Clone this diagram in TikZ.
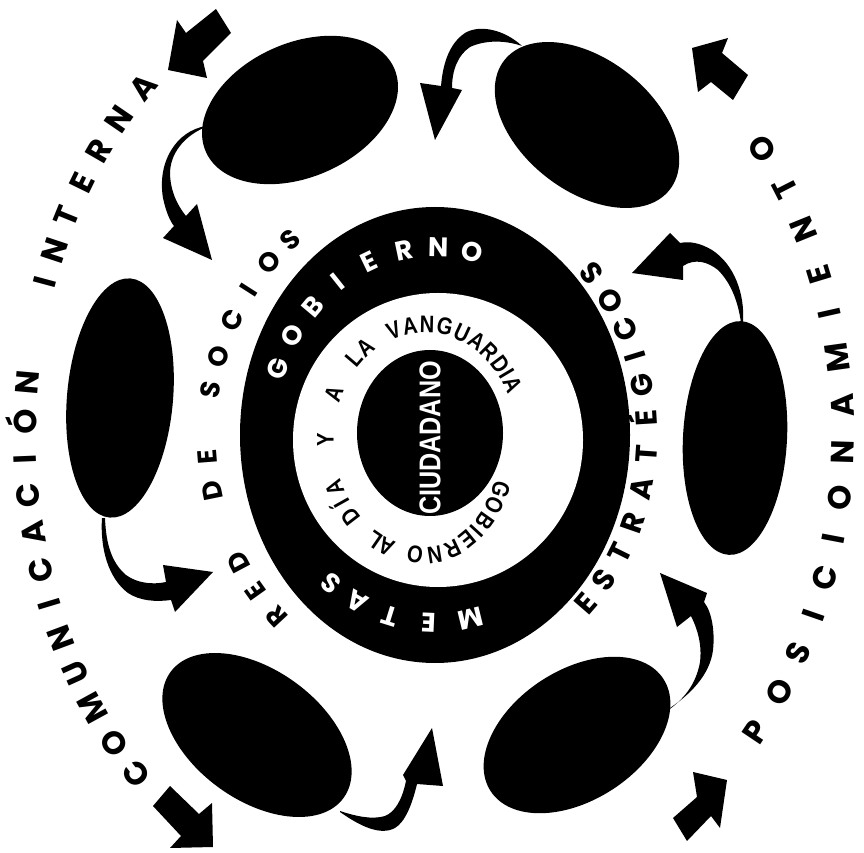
\documentclass[tikz,border=0pt]{standalone}
\usepackage{fontspec}
\setmainfont{Liberation Sans}
\newfontfamily\narrowfont[FakeStretch=0.84]{Liberation Sans}
\newfontfamily\geofont{Poppins}
\usetikzlibrary{calc}
\tikzset{
  ltr/.style={inner sep=0pt, anchor=center, text depth=0pt},
  outertxt/.style={ltr, font=\geofont\fontsize{32}{32}\selectfont\bfseries, text height=22.5pt},
  estrtxt/.style={ltr, font=\geofont\fontsize{30}{30}\selectfont\bfseries, text height=21pt},
  redtxt/.style={ltr, font=\geofont\fontsize{27}{27}\selectfont\bfseries, text height=19pt},
  ringtxt/.style={ltr, text=white, font=\geofont\fontsize{27}{27}\selectfont\bfseries, text height=19pt},
  innertxt/.style={ltr, font=\narrowfont\fontsize{24}{24}\selectfont\bfseries, text height=17.2pt},
  blob/.style={fill=black},
  ribbon/.style={fill=black},
  blockarrow/.style={fill=black},
}
% #1 prefix, #2 cx, #3 cy, #4 rx, #5 ry, #6 style, #7 orientation offset, #8 list letter/angle
\newcommand\ringtext[8]{%
  \foreach \ch/\th [count=\k] in {#8} {%
    \pgfmathsetmacro\tp{atan2(sin(\th)*#4, cos(\th)*#5)}%
    \pgfmathsetmacro\nr{atan2(sin(\tp)*#4, cos(\tp)*#5)+#7}%
    \node[#6, rotate=\nr] (#1\k) at ({#2+#4*cos(\tp)}, {#3+#5*sin(\tp)}) {\ch};
  }}
\begin{document}
\begin{tikzpicture}[x=1pt,y=1pt]
\useasboundingbox (0,0) rectangle (864,852);
\fill[white] (0,0) rectangle (864,852);

% ---------- shapes in image coordinates (y down) ----------
\begin{scope}[shift={(0,852)}, yscale=-1]
  % rings
  \fill[black] (435,435) ellipse [x radius=195, y radius=228];
  \fill[white] (438,440) ellipse [x radius=145, y radius=147];
  \fill[black] (430,433) ellipse [x radius=73, y radius=83];
  % blobs
  \fill[blob, rotate around={-24:(300,110)}] (300,110) ellipse [x radius=103, y radius=67];
  \fill[blob, rotate around={38:(587,125)}] (587,125) ellipse [x radius=105, y radius=66];
  \fill[blob, rotate around={5:(120,398)}] (120,398) ellipse [x radius=53, y radius=120];
  \fill[blob, rotate around={3:(735,438)}] (735,438) ellipse [x radius=52, y radius=117];
  \fill[blob, rotate around={36:(257,735)}] (257,735) ellipse [x radius=107, y radius=65];
  \fill[blob, rotate around={-33:(577,735)}] (577,735) ellipse [x radius=103, y radius=65];
  % curved ribbon arrows
  \fill[ribbon] (206,126) .. controls (176,131) and (157,162) .. (163,198)
     .. controls (166,212) and (170,221) .. (174,226) -- (163,238) -- (212,260) -- (197,204) -- (186,216)
     .. controls (177,205) and (170,190) .. (170,172) .. controls (171,150) and (188,134) .. (206,127) -- cycle;
  \fill[ribbon] (522,46) .. controls (505,30) and (480,24) .. (465,33)
     .. controls (450,43) and (443,62) .. (441,86) -- (420,83) -- (435,140) -- (462,90) -- (452,88)
     .. controls (452,70) and (458,55) .. (470,47) .. controls (485,40) and (505,40) .. (522,46) -- cycle;
  \fill[ribbon] (743,323) .. controls (745,295) and (735,265) .. (712,250)
     .. controls (700,243) and (690,241) .. (680,243) -- (670,233) -- (632,273) -- (683,280) -- (683,266)
     .. controls (695,258) and (708,262) .. (718,270) .. controls (730,282) and (738,300) .. (741,323) -- cycle;
  \fill[ribbon] (667,710) .. controls (690,695) and (710,675) .. (713,650)
     .. controls (715,632) and (712,612) .. (704,602) -- (707,593) -- (660,573) -- (677,627) -- (691,616)
     .. controls (698,630) and (702,645) .. (700,662) .. controls (696,685) and (683,700) .. (667,711) -- cycle;
  \fill[ribbon] (340,812) .. controls (360,826) and (380,836) .. (395,828)
     .. controls (405,822) and (412,805) .. (417,784) -- (443,786) -- (432,728) -- (403,775) -- (406,781)
     .. controls (402,800) and (395,812) .. (385,816) .. controls (372,820) and (355,816) .. (340,811) -- cycle;
  \fill[ribbon] (102,518) .. controls (100,548) and (108,578) .. (128,593)
     .. controls (140,601) and (156,602) .. (171,600) -- (175,612) -- (213,572) -- (163,565) -- (166,582)
     .. controls (152,585) and (137,583) .. (126,575) .. controls (112,563) and (106,545) .. (105,518) -- cycle;
  % block arrows
  \fill[blockarrow] (168,70) -- (177,20) -- (186,33) -- (216,9) -- (231,33) -- (203,61) -- (207,78) -- cycle;
  \fill[blockarrow] (692,48) -- (728,38) -- (722,53) -- (748,75) -- (733,100) -- (711,82) -- (698,92) -- cycle;
  \fill[blockarrow] (213,847) -- (212,803) -- (199,814) -- (170,786) -- (153,806) -- (181,836) -- (170,848) -- cycle;
  \fill[blockarrow] (727,780) -- (720,828) -- (711,816) -- (687,841) -- (673,818) -- (697,797) -- (693,772) -- cycle;
\end{scope}

% ---------- texts (y up) ----------
\ringtext{com}{435}{417}{410}{495}{outertxt}{-90}{C/228.5, O/223.8, M/218.6, U/213.5, N/208.5, I/203.7, C/198.9, A/193.6, C/188.4, I/183.4, Ó/178.2, N/172.6, I/158.6, N/154.2, T/149.3, E/144.5, R/139.8, N/135, A/130}
\ringtext{pos}{433}{417}{410}{480}{outertxt}{90}{P/-42.6, O/-36.6, S/-30.8, I/-25.4, C/-20, I/-14.6, O/-8.8, N/-2.4, A/4.2, M/10.8, I/17, E/22.6, N/29, T/35, O/41}
\ringtext{est}{435}{417}{212}{240}{estrtxt}{90}{E/-48, S/-40.5, T/-32.5, R/-24, A/-14.5, T/-5, É/4.5, G/13.5, I/21.5, C/29, O/37.5, S/46}
\ringtext{red}{435}{417}{228}{252}{redtxt}{-90}{R/228.8, E/221, D/213, D/194, E/185.5, S/168.5, O/160, C/150.5, I/142, O/134, S/126.5}
\ringtext{gob}{435}{417}{168}{188}{ringtxt}{-90}{G/157, O/145, B/133.5, I/122.5, E/111, R/99.5, N/89, O/78.5}
\ringtext{met}{435}{417}{168}{188}{ringtxt}{-90}{M/281, E/268, T/256, A/245, S/235}
\ringtext{ald}{425}{412}{100}{116}{innertxt}{-90}{A/250, L/243, D/226, Í/217, A/208, Y/180, A/153, L/131, A/123}
\ringtext{van}{425}{412}{100}{116}{innertxt}{-90}{V/106, A/97.5, N/89, G/80, U/71, A/62.3, R/53.7, D/45, I/38.8, A/32.5}
\ringtext{gin}{425}{412}{84}{116}{innertxt}{-90}{G/-33, O/-43.5, B/-53.5, I/-60.3, E/-66.8, R/-75.8, N/-85.2, O/-95}
\node[rotate=90, text=white, inner sep=0pt, font=\narrowfont\fontsize{30}{30}\selectfont\bfseries] (ciud) at (430,414) {CIUDADANO};
\end{tikzpicture}
\end{document}
